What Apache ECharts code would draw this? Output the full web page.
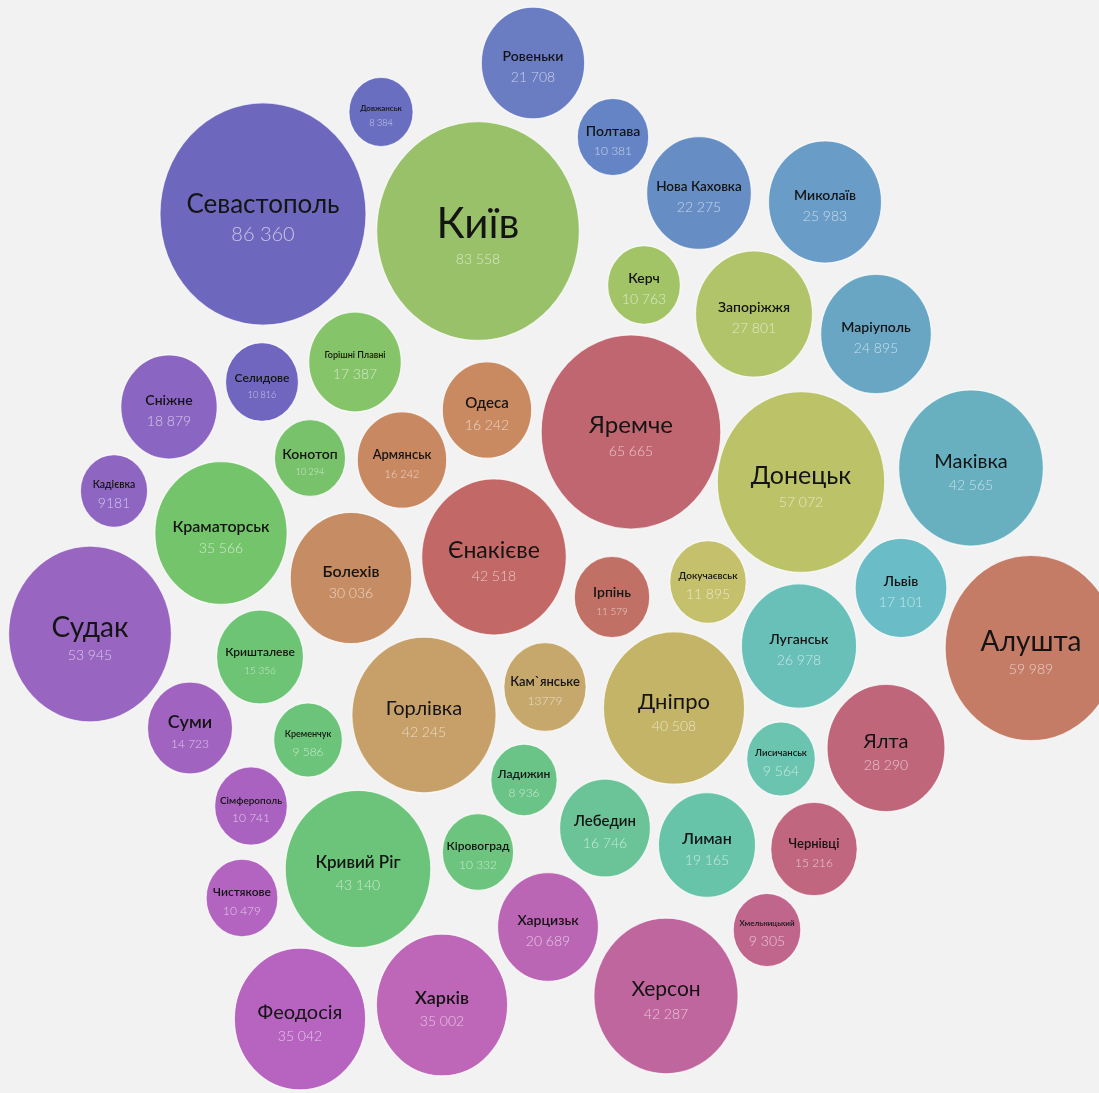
<!DOCTYPE html>
<html>
<head>
<meta charset="utf-8">
<script src="https://cdn.jsdelivr.net/npm/echarts@6/dist/echarts.min.js"></script>
<style>
html,body{margin:0;padding:0;background:#f2f2f2;}
#chart{width:1099px;height:1093px;}
</style>
</head>
<body>
<div id="chart"></div>
<script>
const names = ["Севастополь","Київ","Ровеньки","Довжанськ","Полтава","Нова Каховка","Миколаїв","Керч","Запоріжжя","Маріуполь",
"Горішні Плавні","Селидове","Сніжне","Одеса","Яремче","Донецьк","Маківка","Конотоп","Армянськ","Кадієвка",
"Краматорськ","Єнакієве","Болехів","Ірпінь","Докучаєвськ","Львів","Алушта","Судак","Луганськ","Кришталеве",
"Кам`янське","Горлівка","Дніпро","Суми","Кременчук","Лисичанськ","Ялта","Ладижин","Сімферополь","Лебедин",
"Кривий Ріг","Кіровоград","Лиман","Чернівці","Чистякове","Харцизьк","Хмельницький","Херсон","Феодосія","Харків"];
const values = [86360,83558,21708,8384,10381,22275,25983,10763,27801,24895,
17387,10816,18879,16242,65665,57072,42565,10294,16242,9181,
35566,42518,30036,11579,11895,17101,59989,53945,26978,15356,
13779,42245,40508,14723,9586,9564,28290,8936,10741,16746,
43140,10332,19165,15216,10479,20689,9305,42287,35042,35002];
const valueLabels = ["86 360","83 558","21 708","8 384","10 381","22 275","25 983","10 763","27 801","24 895",
"17 387","10 816","18 879","16 242","65 665","57 072","42 565","10 294","16 242","9181",
"35 566","42 518","30 036","11 579","11 895","17 101","59 989","53 945","26 978","15 356",
"13779","42 245","40 508","14 723","9 586","9 564","28 290","8 936","10 741","16 746",
"43 140","10 332","19 165","15 216","10 479","20 689","9 305","42 287","35 042","35 002"];
// bubble centres in the packed layout (x, y axis units)
const xs = [263,478,533,381,613,699,825,644,754,876,
355,262,169,487,631,801,971,310,402,114,
221,494,351,612,708,901,1031,90,799,260,
545,424,674,190,308,781,886,524,251,605,
358,478,707,814,242,548,767,666,300,442];
const ys = [214,231,63,112,137,193,202,285,314,334,
362,382,407,410,432,482,468,458,460,491,
533,557,578,597,582,588,648,634,646,657,
687,715,708,728,740,759,748,780,806,828,
869,852,845,849,898,927,930,996,1019,1005];
const colors = ["#6d68be","#98c16a","#6a7cc2","#6a6ec0","#6584c6","#678ec4","#6a9cc8","#a2c466","#b1c46a","#68a6c4",
"#86c46a","#7066c0","#8a66c2","#c98a62","#c06670","#bcc268","#68b0c0","#78c26c","#c88862","#8e66c2",
"#74c46c","#c26866","#c68c64","#c07064","#c4c06c","#6abcc6","#c47c66","#9866c0","#68c0b8","#6cc474",
"#c6a86c","#c6a068","#c4b468","#a064c0","#6cc47a","#6ac4b0","#c0667a","#6ac488","#aa62c0","#6ac498",
"#6cc47a","#6cc47e","#68c4a8","#c0667e","#b264c0","#ba66b4","#c0668c","#c0669e","#b664c0","#be66b8"];
const nameSizes = [26,42,14,8,14,13.5,14,14,14,14,
9,12,14,15,24,25,20,14,13,10.5,
16,23,16,14,10,14,28,28,14,12,
13,20,22,18,9,9.5,20,12,10,15,
17,12,16,13,12,14,8,21,20,18];
const valueSizes = [20,14,14,9,12,14,14,14,14,14,
14,9,14,14,14,14,14,9,11,14,
14,14,14,10,14,14,14,14,14,10,
12,14,14,12,12,14,14,12,12,14,
14,12,14,12,12,14,14,14,14,14];

const RADIUS_K = 0.3505;   // horizontal radius in px per sqrt(value)
const V_STRETCH = 1.08;    // the reference picture is slightly stretched vertically

const data = names.map((n, i) => ({
  name: n,
  value: [xs[i], ys[i], values[i]],
  itemStyle: { color: colors[i] },
  label: {
    formatter: '{n|' + n + '}\n{v|' + valueLabels[i] + '}',
    rich: {
      n: { fontSize: nameSizes[i], lineHeight: nameSizes[i] + 7, color: '#141414',
           fontFamily: 'Lato', fontWeight: nameSizes[i] < 19 ? 600 : 'normal', align: 'center' },
      v: { fontSize: valueSizes[i], lineHeight: valueSizes[i] + 7, color: 'rgba(255,255,255,0.62)',
           fontFamily: 'Lato', fontWeight: 300, align: 'center' }
    }
  }
}));

const chart = echarts.init(document.getElementById('chart'));
chart.setOption({
  backgroundColor: '#f2f2f2',
  animation: false,
  grid: { left: 0, right: 0, top: 0, bottom: 0 },
  xAxis: { type: 'value', min: 0, max: 1099, show: false },
  yAxis: { type: 'value', min: 0, max: 1093, inverse: true, show: false },
  series: [{
    type: 'scatter',
    data: data,
    symbol: 'circle',
    symbolSize: (val) => {
      const d = 2 * RADIUS_K * Math.sqrt(val[2]);
      return [d, d * V_STRETCH];
    },
    itemStyle: { borderColor: 'rgba(255,255,255,0.7)', borderWidth: 1.2, opacity: 1 },
    label: { show: true, position: 'inside', offset: [0, 4] },
    emphasis: { disabled: true }
  }]
});
</script>
</body>
</html>
